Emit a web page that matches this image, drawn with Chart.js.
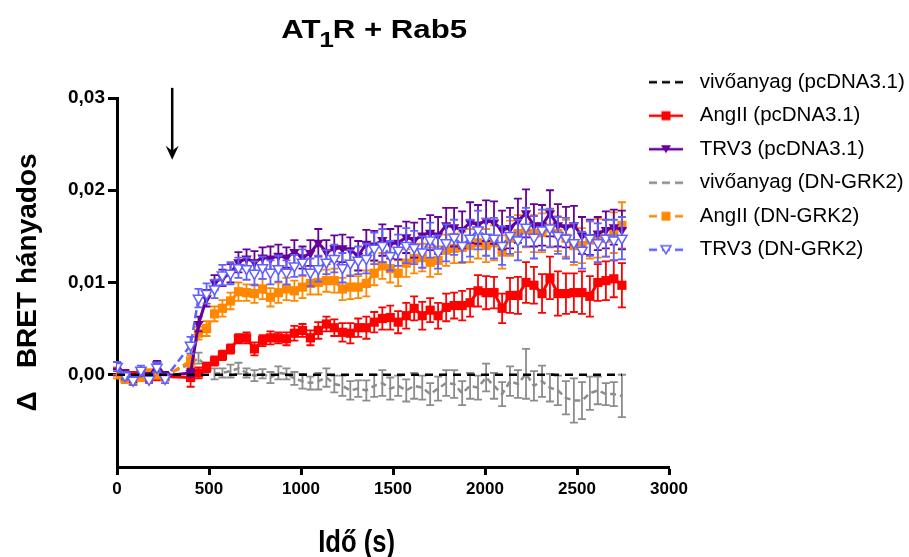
<!DOCTYPE html>
<html><head><meta charset="utf-8">
<script src="https://cdn.jsdelivr.net/npm/chart.js@4.4.1/dist/chart.umd.min.js"></script>
<style>
html,body{margin:0;padding:0;background:#fff;overflow:hidden;}
#wrap{width:940px;height:557px;position:relative;}
</style></head><body>
<div id="wrap"><canvas id="c" width="940" height="557"></canvas></div>
<script>
// ---------- text ----------
const chartTitleParts = ['AT', '1', 'R + Rab5'];
const xAxisTitle = 'Idő (s)';
const yAxisTitle = 'Δ   BRET hányados';
const seriesNames = ['vivőanyag (pcDNA3.1)', 'AngII (pcDNA3.1)', 'TRV3 (pcDNA3.1)',
                     'vivőanyag (DN-GRK2)', 'AngII (DN-GRK2)', 'TRV3 (DN-GRK2)'];
const xTickLabels = ['0', '500', '1000', '1500', '2000', '2500', '3000'];
const yTickLabels = ['', '0,00', '0,01', '0,02', '0,03'];
const arrowTime = 300, arrowFrom = 0.0311, arrowTo = 0.0233;

// ---------- data ----------
const timePoints = [0, 43, 87, 130, 174, 217, 261,
 400, 443, 487, 530, 573, 617, 660, 704, 747, 791,
 834, 877, 921, 964, 1008, 1051, 1094, 1138, 1181, 1225,
 1268, 1311, 1355, 1398, 1442, 1485, 1528, 1572, 1615, 1659,
 1702, 1745, 1789, 1832, 1876, 1919, 1962, 2006, 2049, 2093,
 2136, 2179, 2223, 2266, 2310, 2353, 2396, 2440, 2483, 2527,
 2570, 2613, 2657, 2700, 2744];

const vehiclePc = [0, 0, 0, 0, 0, 0, 0,
 0, 0, 0, 0, 0, 0, 0, 0, 0, 0,
 0, 0, 0, 0, 0, 0, 0, 0, 0, 0,
 0, 0, 0, 0, 0, 0, 0, 0, 0, 0,
 0, 0, 0, 0, 0, 0, 0, 0, 0, 0,
 0, 0, 0, 0, 0, 0, 0, 0, 0, 0,
 0, 0, 0, 0, 0];

const angPc = [0.0003, 0.0001, -0.0001, -0.0002, -0.0001, -0.0002, -0.0002,
 -0.0003, 0.0002, 0.0008, 0.0015, 0.0021, 0.0028, 0.0039, 0.0040, 0.0028, 0.0037,
 0.0040, 0.0040, 0.0039, 0.0045, 0.0048, 0.0040, 0.0048, 0.0055, 0.0051, 0.0046,
 0.0045, 0.0051, 0.0051, 0.0057, 0.0061, 0.0062, 0.0057, 0.0064, 0.0072, 0.0064,
 0.0070, 0.0064, 0.0073, 0.0075, 0.0075, 0.0078, 0.0091, 0.0089, 0.0089, 0.0072,
 0.0086, 0.0086, 0.0100, 0.0097, 0.0088, 0.0105, 0.0088, 0.0088, 0.0089, 0.0089,
 0.0085, 0.0100, 0.0102, 0.0104, 0.0097];
const angPcErr = [0.0004, 0.0003, 0.0004, 0.0003, 0.0004, 0.0003, 0.0004,
 0.0010, 0.0006, 0.0005, 0.0005, 0.0005, 0.0005,
 0.0005, 0.0006, 0.0007, 0.0006, 0.0007, 0.0006, 0.0007, 0.0008, 0.0007, 0.0008, 0.0009, 0.0008, 0.0009,
 0.0010, 0.0011, 0.0010, 0.0012, 0.0011, 0.0012, 0.0013, 0.0012, 0.0014, 0.0013, 0.0015, 0.0013, 0.0014, 0.0015, 0.0014, 0.0016, 0.0015, 0.0017,
 0.0018, 0.0017, 0.0016, 0.0019, 0.0020, 0.0022, 0.0020, 0.0021, 0.0023, 0.0024, 0.0022, 0.0021, 0.0023, 0.0022, 0.0020, 0.0021, 0.0020, 0.0024];

const trvPc = [0.0010, 0.0000, -0.0004, 0.0003, -0.0003, 0.0011, -0.0001,
 0.0002, 0.0055, 0.0083, 0.0100, 0.0105, 0.0110, 0.0122, 0.0126, 0.0122, 0.0127,
 0.0126, 0.0129, 0.0127, 0.0133, 0.0127, 0.0132, 0.0143, 0.0133, 0.0137, 0.0137,
 0.0135, 0.0129, 0.0142, 0.0140, 0.0146, 0.0142, 0.0143, 0.0149, 0.0146, 0.0151,
 0.0154, 0.0151, 0.0162, 0.0160, 0.0157, 0.0165, 0.0163, 0.0167, 0.0165, 0.0157,
 0.0159, 0.0167, 0.0175, 0.0162, 0.0162, 0.0175, 0.0162, 0.0160, 0.0162, 0.0151,
 0.0149, 0.0153, 0.0157, 0.0160, 0.0157];
const trvPcErr = [0.0004, 0.0005, 0.0004, 0.0004, 0.0005, 0.0004, 0.0004,
 0.0004, 0.0008, 0.0009, 0.0008, 0.0009, 0.0010, 0.0011, 0.0010, 0.0012, 0.0011,
 0.0013, 0.0012, 0.0011, 0.0013, 0.0012, 0.0014, 0.0015, 0.0013, 0.0014, 0.0015,
 0.0014, 0.0016, 0.0015, 0.0016, 0.0017, 0.0016, 0.0018, 0.0017, 0.0019, 0.0018,
 0.0019, 0.0020, 0.0019, 0.0021, 0.0020, 0.0022, 0.0021, 0.0022, 0.0023, 0.0021,
 0.0022, 0.0024, 0.0026, 0.0023, 0.0022, 0.0025, 0.0023, 0.0022, 0.0021, 0.0020,
 0.0019, 0.0018, 0.0020, 0.0019, 0.0021];

const vehDn = [0.0004, 0.0002, -0.0003, -0.0001, 0.0000, -0.0002, -0.0001,
 0.0012, 0.0018, 0.0008, 0.0001, 0.0002, 0.0004, 0.0007, 0.0002, -0.0001, 0.0001,
 -0.0003, 0.0002, 0.0001, -0.0004, -0.0007, -0.0009, -0.0007, -0.0003, -0.0010, -0.0012,
 -0.0017, -0.0015, -0.0017, -0.0012, -0.0009, -0.0015, -0.0012, -0.0017, -0.0012, -0.0014,
 -0.0021, -0.0015, -0.0009, -0.0010, -0.0020, -0.0012, -0.0014, -0.0003, -0.0012, -0.0021,
 -0.0007, -0.0010, 0.0001, -0.0012, -0.0007, -0.0014, -0.0017, -0.0025, -0.0028, -0.0028,
 -0.0020, -0.0017, -0.0021, -0.0021, -0.0023];
const vehDnErr = [0.0004, 0.0003, 0.0004, 0.0003, 0.0004, 0.0003, 0.0004,
 0.0005, 0.0006, 0.0005, 0.0006, 0.0005, 0.0007, 0.0006, 0.0005, 0.0006, 0.0005,
 0.0006, 0.0007, 0.0006, 0.0007, 0.0008, 0.0007, 0.0009, 0.0010, 0.0009, 0.0011,
 0.0010, 0.0009, 0.0011, 0.0012, 0.0014, 0.0012, 0.0011, 0.0012, 0.0014, 0.0013,
 0.0012, 0.0013, 0.0014, 0.0015, 0.0013, 0.0014, 0.0013, 0.0015, 0.0014, 0.0013,
 0.0016, 0.0015, 0.0027, 0.0016, 0.0017, 0.0015, 0.0016, 0.0018, 0.0024, 0.0020,
 0.0018, 0.0015, 0.0012, 0.0013, 0.0023];

const angDn = [0.0000, -0.0004, -0.0007, -0.0003, 0.0001, 0.0000, -0.0002,
 0.0015, 0.0045, 0.0050, 0.0066, 0.0072, 0.0080, 0.0090, 0.0089, 0.0088, 0.0093,
 0.0084, 0.0089, 0.0093, 0.0091, 0.0095, 0.0099, 0.0100, 0.0102, 0.0102, 0.0093,
 0.0095, 0.0095, 0.0099, 0.0110, 0.0118, 0.0115, 0.0110, 0.0121, 0.0126, 0.0127,
 0.0122, 0.0124, 0.0135, 0.0137, 0.0138, 0.0140, 0.0143, 0.0140, 0.0143, 0.0133,
 0.0148, 0.0153, 0.0157, 0.0153, 0.0154, 0.0159, 0.0153, 0.0148, 0.0140, 0.0140,
 0.0146, 0.0148, 0.0148, 0.0154, 0.0162];
const angDnErr = [0.0004, 0.0005, 0.0004, 0.0004, 0.0005, 0.0004, 0.0004,
 0.0006, 0.0007, 0.0008, 0.0008, 0.0009, 0.0009, 0.0010, 0.0009, 0.0010, 0.0011,
 0.0010, 0.0011, 0.0012, 0.0011, 0.0012, 0.0012, 0.0013, 0.0012, 0.0013, 0.0012,
 0.0013, 0.0012, 0.0014, 0.0013, 0.0014, 0.0015, 0.0014, 0.0015, 0.0016, 0.0015,
 0.0016, 0.0015, 0.0017, 0.0016, 0.0017, 0.0018, 0.0017, 0.0018, 0.0019, 0.0018,
 0.0019, 0.0020, 0.0019, 0.0020, 0.0021, 0.0020, 0.0019, 0.0020, 0.0021, 0.0019,
 0.0020, 0.0021, 0.0020, 0.0022, 0.0025];

const trvDn = [0.0009, -0.0001, -0.0006, 0.0005, -0.0005, 0.0008, -0.0004,
 0.0032, 0.0083, 0.0088, 0.0093, 0.0108, 0.0110, 0.0116, 0.0115, 0.0110, 0.0116,
 0.0111, 0.0115, 0.0111, 0.0118, 0.0122, 0.0111, 0.0115, 0.0122, 0.0126, 0.0116,
 0.0121, 0.0124, 0.0126, 0.0137, 0.0140, 0.0129, 0.0135, 0.0140, 0.0138, 0.0133,
 0.0146, 0.0133, 0.0143, 0.0149, 0.0140, 0.0148, 0.0157, 0.0149, 0.0148, 0.0140,
 0.0151, 0.0146, 0.0160, 0.0149, 0.0157, 0.0159, 0.0151, 0.0148, 0.0143, 0.0135,
 0.0148, 0.0143, 0.0148, 0.0146, 0.0148];
const trvDnErr = [0.0005, 0.0004, 0.0005, 0.0005, 0.0004, 0.0005, 0.0005,
 0.0009, 0.0010, 0.0011, 0.0010, 0.0011, 0.0012, 0.0011, 0.0012, 0.0013, 0.0012,
 0.0013, 0.0014, 0.0013, 0.0012, 0.0014, 0.0015, 0.0014, 0.0013, 0.0015, 0.0016,
 0.0014, 0.0015, 0.0016, 0.0017, 0.0018, 0.0016, 0.0017, 0.0019, 0.0018, 0.0017,
 0.0019, 0.0018, 0.0020, 0.0019, 0.0018, 0.0020, 0.0021, 0.0020, 0.0022, 0.0021,
 0.0020, 0.0022, 0.0021, 0.0023, 0.0022, 0.0021, 0.0020, 0.0022, 0.0021, 0.0020,
 0.0019, 0.0021, 0.0020, 0.0022, 0.0023];

// ---------- styling ----------
const FONT = "'Liberation Sans', Arial, sans-serif";
const colors = ['#000000', '#ff0000', '#660099', '#8c8c8c', '#ff8800', '#6060ff'];

function pts(arr) { return timePoints.map((t, i) => ({x: t, y: arr[i]})); }

function makeSample(color, dash, marker, open) {
  const c = document.createElement('canvas');
  c.width = 36; c.height = 14;
  const g = c.getContext('2d');
  g.strokeStyle = color; g.lineWidth = 2.5; g.setLineDash(dash);
  g.beginPath(); g.moveTo(1, 7); g.lineTo(35, 7); g.stroke();
  g.setLineDash([]);
  if (marker === 'rect') { g.fillStyle = color; g.fillRect(13.5, 2.5, 9, 9); }
  if (marker === 'tri') {
    g.beginPath(); g.moveTo(13, 3); g.lineTo(23, 3); g.lineTo(18, 11); g.closePath();
    if (open) { g.fillStyle = '#fff'; g.fill(); g.lineWidth = 1.5; g.stroke(); }
    else { g.fillStyle = color; g.fill(); }
  }
  return c;
}

const datasets = [
  {label: seriesNames[0], data: pts(vehiclePc), errs: null, borderColor: colors[0], backgroundColor: colors[0],
   borderWidth: 2.5, borderDash: [8, 6], pointRadius: 0, order: 0},
  {label: seriesNames[1], data: pts(angPc), errs: angPcErr, borderColor: colors[1], backgroundColor: colors[1],
   borderWidth: 3, pointStyle: 'rect', pointRadius: 6.5, pointBorderWidth: 0, order: 4},
  {label: seriesNames[2], data: pts(trvPc), errs: trvPcErr, borderColor: colors[2], backgroundColor: colors[2],
   borderWidth: 3, pointStyle: 'triangle', rotation: 180, pointRadius: 6, pointBorderWidth: 0, order: 2},
  {label: seriesNames[3], data: pts(vehDn), errs: vehDnErr, borderColor: colors[3], backgroundColor: colors[3],
   borderWidth: 2.5, borderDash: [6, 4], pointRadius: 0, order: 5},
  {label: seriesNames[4], data: pts(angDn), errs: angDnErr, borderColor: colors[4], backgroundColor: colors[4],
   borderWidth: 3, borderDash: [8, 4], pointStyle: 'rect', pointRadius: 6.5, pointBorderWidth: 0, order: 3},
  {label: seriesNames[5], data: pts(trvDn), errs: trvDnErr, borderColor: colors[5], backgroundColor: '#ffffff',
   borderWidth: 2.5, borderDash: [8, 4], pointStyle: 'triangle', rotation: 180, pointRadius: 6, pointBorderWidth: 1.5, order: 1}
];

const samples = [
  makeSample(colors[0], [8, 5], null, false),
  makeSample(colors[1], [], 'rect', false),
  makeSample(colors[2], [], 'tri', false),
  makeSample(colors[3], [8, 5], null, false),
  makeSample(colors[4], [8, 5], 'rect', false),
  makeSample(colors[5], [8, 5], 'tri', true)
];

const decor = {
  id: 'decor',
  afterLayout(chart) {
    const lg = chart.legend;
    if (!lg) return;
    lg.left = 629.5; lg.top = 59; lg.right = 940; lg.bottom = 330;
    lg.width = lg.right - lg.left; lg.height = lg.bottom - lg.top;
  },
  beforeDatasetDraw(chart, args) {
    const ds = chart.data.datasets[args.index];
    if (!ds.errs) return;
    const ys = chart.scales.y, ctx = chart.ctx;
    ctx.save();
    ctx.strokeStyle = ds.borderColor; ctx.lineWidth = 1.8; ctx.setLineDash([]);
    args.meta.data.forEach((pt, i) => {
      const v = ds.data[i].y, e = ds.errs[i];
      const y1 = ys.getPixelForValue(v + e), y2 = ys.getPixelForValue(v - e);
      ctx.beginPath();
      ctx.moveTo(pt.x, y1); ctx.lineTo(pt.x, y2);
      ctx.moveTo(pt.x - 4, y1); ctx.lineTo(pt.x + 4, y1);
      ctx.moveTo(pt.x - 4, y2); ctx.lineTo(pt.x + 4, y2);
      ctx.stroke();
    });
    ctx.restore();
  },
  afterDraw(chart) {
    const ctx = chart.ctx, xs = chart.scales.x, ys = chart.scales.y, ca = chart.chartArea;
    // arrow (injection)
    const ax = xs.getPixelForValue(arrowTime), ay1 = ys.getPixelForValue(arrowFrom), ay2 = ys.getPixelForValue(arrowTo);
    ctx.save();
    ctx.strokeStyle = '#000'; ctx.fillStyle = '#000'; ctx.lineWidth = 2.5;
    ctx.beginPath(); ctx.moveTo(ax, ay1); ctx.lineTo(ax, ay2 - 6); ctx.stroke();
    ctx.beginPath(); ctx.moveTo(ax, ay2); ctx.lineTo(ax - 6.5, ay2 - 14); ctx.lineTo(ax, ay2 - 9); ctx.lineTo(ax + 6.5, ay2 - 14); ctx.closePath(); ctx.fill();
    ctx.restore();
    // title with subscript
    ctx.save();
    const mainFont = 'bold 26px ' + FONT, subFont = 'bold 22px ' + FONT;
    ctx.font = mainFont; const w0 = ctx.measureText(chartTitleParts[0]).width, w2 = ctx.measureText(chartTitleParts[2]).width;
    ctx.font = subFont; const w1 = ctx.measureText(chartTitleParts[1]).width;
    const total = w0 + w1 + w2;
    const cx = ca.left + 0.468 * (ca.right - ca.left);
    ctx.translate(cx, 38); ctx.scale(1.2, 1);
    ctx.fillStyle = '#000'; ctx.textBaseline = 'alphabetic'; ctx.textAlign = 'left';
    let x = -total / 2;
    ctx.font = mainFont; ctx.fillText(chartTitleParts[0], x, 0); x += w0;
    ctx.font = subFont; ctx.fillText(chartTitleParts[1], x - 1, 9); x += w1 - 2;
    ctx.font = mainFont; ctx.fillText(chartTitleParts[2], x, 0);
    ctx.restore();
    // x axis title (condensed)
    ctx.save();
    ctx.translate(ca.left + 0.434 * (ca.right - ca.left), 552);
    ctx.scale(0.8, 1);
    ctx.font = 'bold 32px ' + FONT; ctx.fillStyle = '#000'; ctx.textAlign = 'center'; ctx.textBaseline = 'alphabetic';
    ctx.fillText(xAxisTitle, 0, 0);
    ctx.restore();
  }
};

new Chart(document.getElementById('c'), {
  type: 'line',
  data: {datasets},
  plugins: [decor],
  options: {
    responsive: false,
    animation: false,
    layout: {padding: {left: 0, top: 98, right: 271, bottom: 0}},
    elements: {line: {tension: 0}},
    plugins: {
      title: {display: false},
      tooltip: {enabled: false},
      legend: {
        display: true,
        position: 'chartArea',
        align: 'start',
        labels: {
          usePointStyle: true,
          pointStyleWidth: 47,
          padding: 13,
          textAlign: 'left',
          color: '#000',
          font: {family: FONT, size: 20.5},
          generateLabels: (chart) => chart.data.datasets.map((d, i) => ({
            text: d.label, pointStyle: samples[i], fillStyle: d.borderColor, strokeStyle: d.borderColor,
            lineWidth: 0, hidden: false, datasetIndex: i, fontColor: '#000'
          }))
        }
      }
    },
    scales: {
      x: {
        type: 'linear', min: 0, max: 3000,
        afterFit: (s) => { s.height = 90; },
        border: {display: true, color: '#000', width: 3},
        grid: {display: true, drawOnChartArea: false, drawTicks: true, tickLength: 8, tickWidth: 3, tickColor: '#000'},
        ticks: {stepSize: 500, padding: 4, color: '#000', maxRotation: 0,
          font: {family: FONT, size: 17, weight: 'bold'},
          callback: (v) => xTickLabels[Math.round(v / 500)]}
      },
      y: {
        min: -0.01, max: 0.03,
        afterFit: (s) => { s.width = 117; },
        border: {display: true, color: '#000', width: 3},
        grid: {display: true, drawOnChartArea: false, drawTicks: true, tickLength: 9, tickWidth: 3,
          tickColor: (c) => (c.tick && c.tick.value < -0.005) ? 'rgba(0,0,0,0)' : '#000'},
        ticks: {stepSize: 0.01, padding: 3, color: '#000',
          font: {family: FONT, size: 19, weight: 'bold'},
          callback: (v) => yTickLabels[Math.round(v * 100) + 1]},
        title: {display: true, text: yAxisTitle, color: '#000', padding: {top: 11, bottom: 0},
          font: {family: FONT, size: 28, weight: 'bold'}}
      }
    }
  }
});
</script>
</body></html>
